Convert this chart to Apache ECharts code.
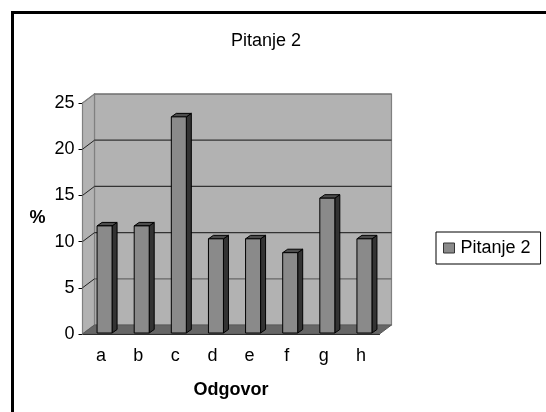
<!DOCTYPE html>
<html>
<head>
<meta charset="utf-8">
<style>html,body{margin:0;padding:0;background:#fff}#chart{width:546px;height:412px}</style>
<script src="https://cdn.jsdelivr.net/npm/echarts@6/dist/echarts.min.js"></script>
</head>
<body>
<div id="chart"></div>
<script>
var categories = ['a', 'b', 'c', 'd', 'e', 'f', 'g', 'h'];
var values = [11.7, 11.7, 23.5, 10.3, 10.3, 8.8, 14.7, 10.3];
var gridValues = [0, 5, 10, 15, 20, 25];
var seriesName = 'Pitanje 2';

var depthX = 12, depthY = -9;
var font = '"Liberation Sans", Arial, sans-serif';
var myChart = echarts.init(document.getElementById('chart'));

// walls and floor of the fake 3d box
function renderWalls(params, api) {
	var cs = params.coordSys;
	var l = cs.x, r = cs.x + cs.width, t = cs.y, b = cs.y + cs.height;
	var dx = depthX, dy = depthY;
	return {
		type: 'group',
		silent: true,
		children: [
			{ type: 'polygon', shape: { points: [[l + dx, t + dy], [r + dx, t + dy], [r + dx, b + dy], [l + dx, b + dy]] },
				style: { fill: '#b2b2b2', stroke: '#808080', lineWidth: 1.2 } },
			{ type: 'polygon', shape: { points: [[l, t], [l + dx, t + dy], [l + dx, b + dy], [l, b]] },
				style: { fill: '#b2b2b2', stroke: '#808080', lineWidth: 1.2 } },
			{ type: 'polygon', shape: { points: [[l, b], [l + dx, b + dy], [r + dx, b + dy], [r, b]] },
				style: { fill: '#666666', stroke: '#5a5a5a', lineWidth: 1 } }
		]
	};
}

// gridline on back wall + slanted piece on side wall
function renderGridLine(params, api) {
	var cs = params.coordSys;
	var v = api.value(0);
	var y = api.coord([0, v])[1];
	var l = cs.x, r = cs.x + cs.width;
	var backColor = (v === 5 || v === 25) ? '#666666' : '#333333';
	var kids = [];
	if (v > 0) {
		kids.push({ type: 'line', shape: { x1: l + depthX, y1: y + depthY, x2: r + depthX, y2: y + depthY },
			style: { stroke: backColor, lineWidth: 1.2 } });
		kids.push({ type: 'line', shape: { x1: l, y1: y, x2: l + depthX, y2: y + depthY },
			style: { stroke: v === 25 ? '#808080' : '#222222', lineWidth: 1 } });
	}
	return { type: 'group', silent: true, children: kids };
}

function renderBar(params, api) {
	var i = api.value(0);
	var c = api.coord([i, api.value(1)]);
	var o = api.coord([i, 0]);
	var w = 15;
	var d = 5, e = -3.5;
	var x0 = c[0] - w / 2 + 3.5, x1 = x0 + w, top = c[1], bot = o[1] - 1;
	var st = { stroke: '#000', lineWidth: 1 };
	return {
		type: 'group',
		children: [
			{ type: 'polygon', shape: { points: [[x1, top], [x1 + d, top + e], [x1 + d, bot + e], [x1, bot]] },
				style: Object.assign({ fill: '#333333' }, st) },
			{ type: 'polygon', shape: { points: [[x0, top], [x0 + d, top + e], [x1 + d, top + e], [x1, top]] },
				style: Object.assign({ fill: '#4d4d4d' }, st) },
			{ type: 'rect', shape: { x: x0, y: top, width: w, height: bot - top },
				style: Object.assign({ fill: '#8a8a8a' }, st) }
		]
	};
}

var option1 = {
	animation: false,
	backgroundColor: '#fff',
	textStyle: { fontFamily: font },
	title: {
		text: seriesName,
		left: 261, top: 27, textAlign: 'center',
		textStyle: { fontFamily: font, fontSize: 18, fontWeight: 'normal', color: '#000' }
	},
	legend: {
		left: 436, top: 232,
		orient: 'vertical',
		data: [{ name: seriesName, icon: 'rect' }],
		itemWidth: 11, itemHeight: 10, itemGap: 0,
		padding: [7, 10, 7, 7],
		borderColor: '#000', borderWidth: 1,
		backgroundColor: '#fff',
		textStyle: { fontFamily: font, fontSize: 18, color: '#000', padding: [0, 0, 0, 1] },
		itemStyle: { borderColor: '#333', borderWidth: 1, color: '#8a8a8a' }
	},
	grid: { left: 82.5, top: 103, width: 297, height: 231 },
	xAxis: {
		type: 'category',
		data: categories,
		boundaryGap: true,
		name: 'Odgovor',
		nameLocation: 'middle',
		nameGap: 47,
		nameTextStyle: { fontFamily: font, fontSize: 18, fontWeight: 'bold', color: '#000' },
		axisLine: { lineStyle: { color: '#000', width: 1 } },
		axisTick: { length: 5, alignWithLabel: false, lineStyle: { color: '#000' } },
		axisLabel: { fontFamily: font, fontSize: 18, color: '#000', margin: 13 },
		splitLine: { show: false }
	},
	yAxis: {
		type: 'value',
		min: 0, max: 25, interval: 5,
		name: '%',
		nameLocation: 'middle',
		nameRotate: 0,
		nameGap: 37,
		nameTextStyle: { fontFamily: font, fontSize: 18, fontWeight: 'bold', color: '#000', padding: [8, 0, 0, 0] },
		axisLine: { show: true, lineStyle: { color: '#000', width: 1 } },
		axisTick: { show: true, length: 4, lineStyle: { color: '#000' } },
		axisLabel: { fontFamily: font, fontSize: 18, color: '#000', margin: 8 },
		splitLine: { show: false }
	},
	graphic: [{
		type: 'rect', left: 10, top: 10, z: -1,
		shape: { width: 600, height: 500 },
		style: { fill: 'none', stroke: '#000', lineWidth: 3 }
	}],
	series: [
		{ type: 'custom', renderItem: renderWalls, data: [[0]], z: 1, silent: true, name: '_walls' },
		{ type: 'custom', renderItem: renderGridLine, data: gridValues.map(function (v) { return [v]; }), encode: { y: 0 }, z: 2, silent: true, name: '_grid' },
		{
			type: 'custom',
			name: seriesName,
			renderItem: renderBar,
			data: values.map(function (v, i) { return [i, v]; }),
			encode: { x: 0, y: 1 },
			itemStyle: { color: '#8a8a8a' },
			z: 3
		}
	]
};
myChart.setOption(option1);
</script>
</body>
</html>
